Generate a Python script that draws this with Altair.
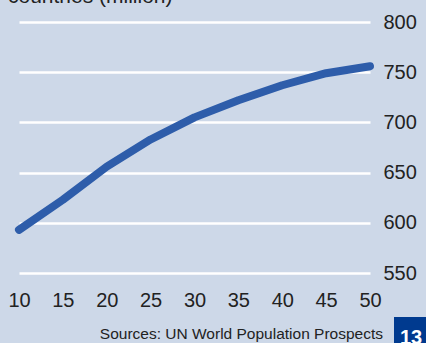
import altair as alt
import pandas as pd

# Projected population (million) by year offset
years = [10, 15, 20, 25, 30, 35, 40, 45, 50]
population = [593, 623, 656, 683, 705, 722, 737, 749, 756]

x_ticks = [10, 15, 20, 25, 30, 35, 40, 45, 50]
y_ticks = [550, 600, 650, 700, 750, 800]

df = pd.DataFrame({"year": years, "population": population})

BG = "#CDD8E8"
LINE = "#2E5DAA"
FONT = "Liberation Sans"

x_enc = alt.X(
    "year:Q",
    scale=alt.Scale(domain=[10, 50], nice=False, zero=False),
    axis=alt.Axis(
        values=x_ticks, title=None, grid=False, domain=False, ticks=False,
        labelFontSize=20, labelFont=FONT, labelColor="#222222", labelPadding=17,
        labelFlush=False, labelOverlap=False,
    ),
)
y_enc = alt.Y(
    "population:Q",
    scale=alt.Scale(domain=[550, 800], nice=False, zero=False),
    axis=alt.Axis(
        orient="right", values=y_ticks, title=None, grid=True,
        gridColor="white", gridWidth=2.5, gridOpacity=1,
        domain=False, ticks=False, labelFontSize=20, labelFont=FONT,
        labelColor="#222222", labelPadding=13, labelAlign="left",
        labelFlush=False, labelOverlap=False,
    ),
)

line = alt.Chart(df).mark_line(
    color=LINE, strokeWidth=8, strokeCap="round", strokeJoin="round"
).encode(x=x_enc, y=y_enc)

heading = alt.Chart(pd.DataFrame({"t": ["countries (million)"]})).mark_text(
    align="left", baseline="alphabetic", fontSize=21, font=FONT, color="#222222"
).encode(x=alt.value(-11), y=alt.value(-19), text="t:N")

source = alt.Chart(pd.DataFrame({"t": ["Sources: UN World Population Prospects"]})).mark_text(
    align="right", baseline="alphabetic", fontSize=15.5, font=FONT, color="#222222"
).encode(x=alt.value(364), y=alt.value(317), text="t:N")

box = alt.Chart(pd.DataFrame({"k": [0]})).mark_rect(color="#003A8F").encode(
    x=alt.value(375), x2=alt.value(420), y=alt.value(295), y2=alt.value(330)
)

page = alt.Chart(pd.DataFrame({"t": ["13"]})).mark_text(
    align="left", baseline="alphabetic", fontSize=20, fontWeight="bold",
    font=FONT, color="white"
).encode(x=alt.value(381), y=alt.value(322), text="t:N")

chart = alt.layer(line, heading, source, box, page).properties(
    width=351, height=251,
    background=BG,
    padding={"left": 19, "top": 22, "right": 56, "bottom": 70},
    autosize=alt.AutoSizeParams(type="none"),
).configure_view(stroke=None, clip=False)

chart.save("out.html", embed_options={"renderer": "svg", "actions": False})
